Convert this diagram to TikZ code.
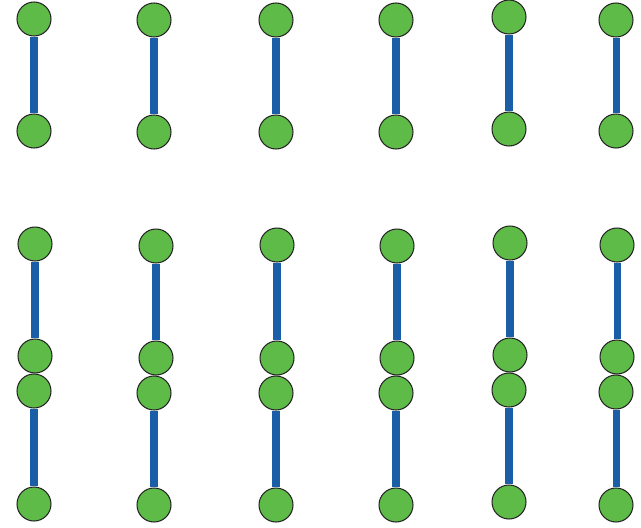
\documentclass[tikz,border=0pt]{standalone}
\usepackage{tikz}
\definecolor{ballgreen}{RGB}{94,187,72}
\definecolor{rodblue}{RGB}{26,94,168}

\begin{document}
\begin{tikzpicture}[
  x=0.02cm, y=-0.02cm,
  ball/.style={circle, draw=black!85, line width=0.6pt, fill=ballgreen,
               minimum size=0.68cm, inner sep=0pt},
  rod/.style={draw=rodblue, line width=4pt},
]
\useasboundingbox (0,0) rectangle (641,527);

% ===================== TOP: single rods =====================
\node[ball] (ta1) at (34,19)  {};
\node[ball] (tb1) at (34,131) {};
\node[ball] (ta2) at (154,20)  {};
\node[ball] (tb2) at (154,132) {};
\node[ball] (ta3) at (276,20)  {};
\node[ball] (tb3) at (276,132) {};
\node[ball] (ta4) at (396,20)  {};
\node[ball] (tb4) at (396,132) {};
\node[ball] (ta5) at (509,17)  {};
\node[ball] (tb5) at (509,129) {};
\node[ball] (ta6) at (616,20)  {};
\node[ball] (tb6) at (616,131) {};

% ===================== BOTTOM: stacked pairs =====================
\node[ball] (ua1) at (35,244) {};
\node[ball] (ub1) at (35,356) {};
\node[ball] (uc1) at (34,391) {};
\node[ball] (ud1) at (34,504) {};
\node[ball] (ua2) at (156,246) {};
\node[ball] (ub2) at (156,358) {};
\node[ball] (uc2) at (154,393) {};
\node[ball] (ud2) at (154,505) {};
\node[ball] (ua3) at (277,245) {};
\node[ball] (ub3) at (277,358) {};
\node[ball] (uc3) at (276,393) {};
\node[ball] (ud3) at (276,505) {};
\node[ball] (ua4) at (397,246) {};
\node[ball] (ub4) at (397,358) {};
\node[ball] (uc4) at (396,393) {};
\node[ball] (ud4) at (396,505) {};
\node[ball] (ua5) at (510,243) {};
\node[ball] (ub5) at (510,355) {};
\node[ball] (uc5) at (509,390) {};
\node[ball] (ud5) at (509,502) {};
\node[ball] (ua6) at (617,245) {};
\node[ball] (ub6) at (617,357) {};
\node[ball] (uc6) at (616,392) {};
\node[ball] (ud6) at (616,505) {};

% rods (ball -> ball)
\draw[rod] (ta1) -- (tb1);
\draw[rod] (ta2) -- (tb2);
\draw[rod] (ta3) -- (tb3);
\draw[rod] (ta4) -- (tb4);
\draw[rod] (ta5) -- (tb5);
\draw[rod] (ta6) -- (tb6);

\draw[rod] (ua1) -- (ub1);
\draw[rod] (uc1) -- (ud1);
\draw[rod] (ua2) -- (ub2);
\draw[rod] (uc2) -- (ud2);
\draw[rod] (ua3) -- (ub3);
\draw[rod] (uc3) -- (ud3);
\draw[rod] (ua4) -- (ub4);
\draw[rod] (uc4) -- (ud4);
\draw[rod] (ua5) -- (ub5);
\draw[rod] (uc5) -- (ud5);
\draw[rod] (ua6) -- (ub6);
\draw[rod] (uc6) -- (ud6);

\end{tikzpicture}
\end{document}
